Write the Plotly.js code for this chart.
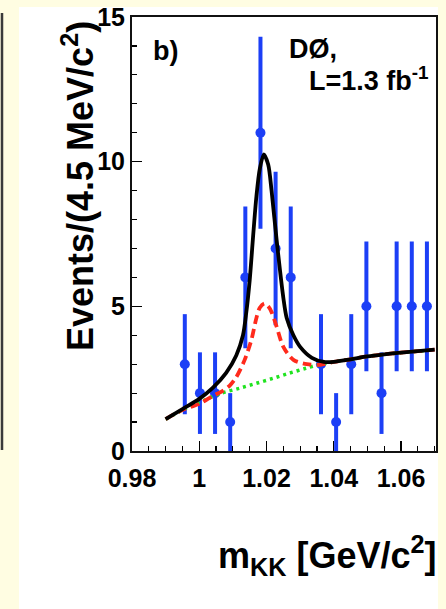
<!DOCTYPE html>
<html>
<head>
<meta charset="utf-8">
<script src="https://cdn.plot.ly/plotly-3.0.1.min.js"></script>
<style>
  html, body { margin: 0; padding: 0; background: #fffde2; }
  #plot { width: 446px; height: 609px; }
</style>
</head>
<body>
<div id="plot"></div>
<script>
// K+K- invariant mass spectrum, 4.5 MeV bins
const massBins = [0.9957, 1.0002, 1.0047, 1.0092, 1.0137, 1.0182, 1.0227, 1.0272,
                  1.0362, 1.0407, 1.0452, 1.0497, 1.0542, 1.0587, 1.0632, 1.0677];
const events   = [3, 2, 2, 1, 6, 11, 7, 6, 3, 1, 3, 5, 2, 5, 5, 5];
const eventErr = [1.73, 1.41, 1.41, 1.00, 2.45, 3.32, 2.65, 2.45,
                  1.73, 1.00, 1.73, 2.24, 1.41, 2.24, 2.24, 2.24];

// total fit (black solid)
const fitMass  = [0.9900, 0.9950, 1.0000, 1.0040, 1.0080, 1.0110, 1.0130, 1.0140, 1.0150,
                  1.0160, 1.0170, 1.0180, 1.0192, 1.0205, 1.0215, 1.0230, 1.0250, 1.0260,
                  1.0280, 1.0300, 1.0335, 1.0370, 1.0400, 1.0450, 1.0500, 1.0550, 1.0600,
                  1.0650, 1.0700];
const fitTotal = [1.10, 1.45, 1.80, 2.18, 2.70, 3.30, 4.00, 4.80, 5.90,
                  7.40, 8.80, 9.75, 10.25, 9.90, 9.00, 7.30, 5.30, 4.60,
                  4.00, 3.60, 3.22, 3.08, 3.08, 3.17, 3.27, 3.34, 3.40,
                  3.45, 3.50];

// second fit component (red dashed)
const sigMass  = [0.9900, 0.9950, 1.0000, 1.0040, 1.0070, 1.0090, 1.0110, 1.0135, 1.0155,
                  1.0170, 1.0180, 1.0194, 1.0205, 1.0215, 1.0230, 1.0250, 1.0280, 1.0320,
                  1.0360, 1.0400, 1.0450, 1.0500, 1.0550, 1.0600, 1.0650, 1.0700];
const sigCurve = [1.10, 1.42, 1.63, 1.90, 2.08, 2.25, 2.55, 3.15, 3.84,
                  4.60, 4.95, 5.10, 5.00, 4.80, 4.30, 3.60, 3.15, 3.00,
                  2.98, 3.08, 3.17, 3.27, 3.34, 3.40, 3.45, 3.50];

// background (green dotted)
const bkgMass  = [0.9900, 0.9950, 1.0016, 1.0066, 1.0120, 1.0170, 1.0219, 1.0268, 1.0317,
                  1.0362, 1.0400, 1.0450, 1.0500, 1.0550, 1.0600, 1.0650, 1.0700];
const bkgCurve = [1.10, 1.42, 1.76, 2.00, 2.17, 2.34, 2.51, 2.69, 2.86,
                  3.00, 3.08, 3.17, 3.27, 3.34, 3.40, 3.45, 3.50];

const xTickVals = [0.98, 1.00, 1.02, 1.04, 1.06];
const yTickVals = [0, 5, 10, 15];

const FONT = 'Liberation Sans, Arial, Helvetica, sans-serif';
const BLUE = '#1c3ff6';

const traces = [
  {
    x: massBins, y: events, type: 'scatter', mode: 'markers',
    marker: {color: BLUE, size: 10},
    error_y: {type: 'data', array: eventErr, visible: true, color: BLUE, thickness: 4, width: 0},
    hoverinfo: 'skip'
  },
  {
    x: bkgMass, y: bkgCurve, type: 'scatter', mode: 'lines',
    line: {color: '#1fe31f', width: 3.5, dash: '3px,4px', shape: 'spline', smoothing: 0.8}
  },
  {
    x: sigMass, y: sigCurve, type: 'scatter', mode: 'lines',
    line: {color: '#ff2a1c', width: 3.8, dash: '9px,5px', shape: 'spline', smoothing: 0.8}
  },
  {
    x: fitMass, y: fitTotal, type: 'scatter', mode: 'lines',
    line: {color: '#000000', width: 3.8, shape: 'spline', smoothing: 0.8}
  }
];

// plot-area pixel geometry, used to place page decorations in paper units
const L = 132, T = 17, W = 304, H = 434;
const px = v => (v - L) / W;
const py = v => 1 - (v - T) / H;

const layout = {
  width: 446, height: 609,
  margin: {l: L, r: 446 - L - W, t: T, b: 609 - T - H, pad: 0},
  paper_bgcolor: '#fffde2',
  plot_bgcolor: '#ffffff',
  showlegend: false,
  font: {family: FONT, color: '#000'},
  xaxis: {
    range: [0.98, 1.0704], tickvals: xTickVals,
    ticks: 'inside', ticklen: 10, tickwidth: 1.2, tickcolor: '#000',
    minor: {dtick: 0.005, ticks: 'inside', ticklen: 5, tickwidth: 1.2, tickcolor: '#000'},
    showline: true, mirror: true, linecolor: '#111', linewidth: 2,
    showgrid: false, zeroline: false, ticklabelstandoff: 4,
    tickfont: {family: FONT, size: 25, weight: 'bold', color: '#000'}
  },
  yaxis: {
    range: [0, 15], tickvals: yTickVals,
    ticks: 'inside', ticklen: 10, tickwidth: 1.2, tickcolor: '#000',
    minor: {dtick: 1, ticks: 'inside', ticklen: 5, tickwidth: 1.2, tickcolor: '#000'},
    showline: true, mirror: true, linecolor: '#111', linewidth: 2,
    showgrid: false, zeroline: false,
    tickfont: {family: FONT, size: 25, weight: 'bold', color: '#000'}
  },
  shapes: [
    {type: 'rect', xref: 'paper', yref: 'paper', layer: 'below',
     x0: px(19), x1: px(438), y0: py(609), y1: py(7),
     fillcolor: '#ffffff', line: {width: 0}},
    {type: 'line', xref: 'paper', yref: 'paper', layer: 'below',
     x0: px(2), x1: px(2), y0: py(450), y1: py(13),
     line: {color: '#3a3a3a', width: 2.5}}
  ],
  annotations: [
    {text: 'Events/(4.5 MeV/c<sup>2</sup>)', xref: 'paper', yref: 'paper',
     x: px(78), y: py(186), xanchor: 'center', yanchor: 'middle', textangle: -90,
     showarrow: false, font: {family: FONT, size: 36, weight: 'bold', color: '#000'}},
    {text: 'm<sub>KK</sub> [GeV/c<sup>2</sup>]', xref: 'paper', yref: 'paper',
     x: px(438), y: py(555), xanchor: 'right', yanchor: 'middle',
     showarrow: false, font: {family: FONT, size: 36, weight: 'bold', color: '#000'}},
    {text: 'b)', xref: 'paper', yref: 'paper',
     x: px(151), y: py(51), xanchor: 'left', yanchor: 'middle',
     showarrow: false, font: {family: FONT, size: 27, weight: 'bold', color: '#000'}},
    {text: 'DØ,', xref: 'paper', yref: 'paper',
     x: px(287), y: py(49), xanchor: 'left', yanchor: 'middle',
     showarrow: false, font: {family: FONT, size: 27, weight: 'bold', color: '#000'}},
    {text: 'L=1.3 fb<sup>-1</sup>', xref: 'paper', yref: 'paper',
     x: px(431), y: py(79), xanchor: 'right', yanchor: 'middle',
     showarrow: false, font: {family: FONT, size: 27, weight: 'bold', color: '#000'}}
  ]
};

Plotly.newPlot('plot', traces, layout, {staticPlot: true, displayModeBar: false});
</script>
</body>
</html>
